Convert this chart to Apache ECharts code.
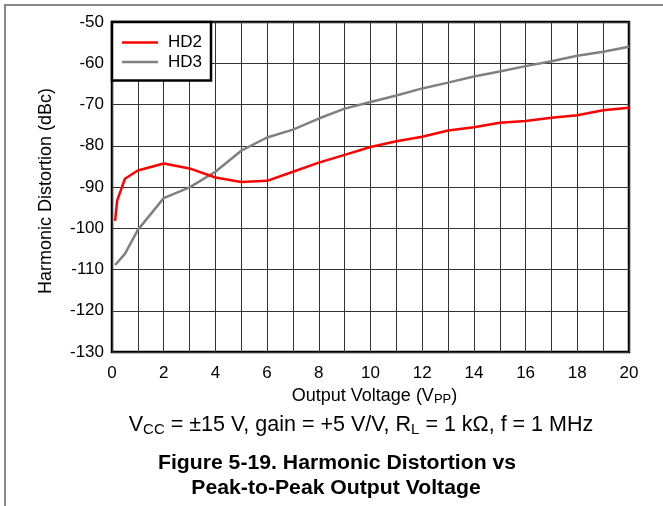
<!DOCTYPE html>
<html>
<head>
<meta charset="utf-8">
<script src="https://cdn.jsdelivr.net/npm/echarts@6/dist/echarts.min.js"></script>
<style>html,body{margin:0;padding:0;background:#fff}#c{width:663px;height:506px}</style>
</head>
<body>
<div id="c"></div>
<script>
var hd2X = [0.12, 0.2, 0.5, 1, 2, 3, 4, 5, 6, 7, 8, 9, 10, 11, 12, 13, 14, 15, 16, 17, 18, 19, 20];
var hd2Y = [-98.2, -93.3, -88, -86, -84.3, -85.5, -87.7, -88.8, -88.5, -86.3, -84.1, -82.2, -80.3, -78.9, -77.8, -76.3, -75.5, -74.4, -74.0, -73.2, -72.6, -71.4, -70.8];
var hd3X = [0.12, 0.5, 1, 2, 3, 4, 5, 6, 7, 8, 9, 10, 11, 12, 13, 14, 15, 16, 17, 18, 19, 20];
var hd3Y = [-108.9, -106.2, -100.4, -92.7, -90.1, -86.3, -81.2, -78.0, -76.1, -73.4, -71.0, -69.4, -67.8, -66.1, -64.7, -63.2, -62.0, -60.7, -59.5, -58.2, -57.2, -56.0];
var xTicks = [0, 2, 4, 6, 8, 10, 12, 14, 16, 18, 20];
var seriesNames = ['HD2', 'HD3'];

function pairs(xs, ys) { return xs.map(function (x, i) { return [x, ys[i]]; }); }

var FONT = '"Liberation Sans", Arial, sans-serif';
var chart = echarts.init(document.getElementById('c'), null, {renderer: 'canvas'});
chart.setOption({
  animation: false,
  backgroundColor: '#fff',
  textStyle: {fontFamily: FONT},
  grid: {left: 112, top: 22, right: 34, bottom: 154, show: true, borderColor: '#000', borderWidth: 2.5, containLabel: false},
  legend: {
    data: [{name: seriesNames[0], icon: 'rect'}, {name: seriesNames[1], icon: 'rect'}],
    orient: 'vertical', left: 112, top: 22,
    padding: [12, 9, 10, 10], itemGap: 2.4, itemWidth: 36, itemHeight: 2.5,
    backgroundColor: '#fff', borderColor: '#000', borderWidth: 2.5, borderRadius: 0,
    textStyle: {fontSize: 17, color: '#000', fontFamily: FONT, lineHeight: 17, padding: [0, 0, 0, 5]}
  },
  xAxis: {
    type: 'value', min: 0, max: 20, interval: 1,
    name: 'Output Voltage (V{sub|PP})', nameLocation: 'middle', nameGap: 22,
    nameTextStyle: {fontSize: 18, color: '#000', fontFamily: FONT, padding: [0, 0, 0, 8],
      rich: {sub: {fontSize: 13, color: '#000', fontFamily: FONT, padding: [8, 0, 0, 0]}}},
    axisLine: {show: false}, axisTick: {show: false},
    axisLabel: {fontSize: 17, color: '#000', margin: 13, fontFamily: FONT,
      formatter: function (v) { return xTicks.indexOf(v) >= 0 ? String(v) : ''; }},
    splitLine: {show: true, lineStyle: {color: '#333', width: 1}}
  },
  yAxis: {
    type: 'value', min: -130, max: -50, interval: 10,
    name: 'Harmonic Distortion (dBc)', nameLocation: 'middle', nameGap: 57,
    nameTextStyle: {fontSize: 18, color: '#000', fontFamily: FONT, padding: [0, 8, 0, 0]},
    axisLine: {show: false}, axisTick: {show: false},
    axisLabel: {fontSize: 17, color: '#000', margin: 8, fontFamily: FONT},
    splitLine: {show: true, lineStyle: {color: '#333', width: 1}}
  },
  series: [
    {name: seriesNames[0], type: 'line', data: pairs(hd2X, hd2Y), symbol: 'none', color: '#ff0000', lineStyle: {color: '#ff0000', width: 2.5}, z: 3},
    {name: seriesNames[1], type: 'line', data: pairs(hd3X, hd3Y), symbol: 'none', color: '#808080', lineStyle: {color: '#808080', width: 2.5}, z: 2}
  ],
  graphic: [
    {type: 'line', shape: {x1: 4, y1: 5, x2: 663, y2: 5}, style: {stroke: '#888', lineWidth: 2}},
    {type: 'line', shape: {x1: 5, y1: 4, x2: 5, y2: 506}, style: {stroke: '#888', lineWidth: 2}},
    {type: 'text', x: 361, y: 425, style: {
      text: 'V{sub|CC} = ±15 V, gain = +5 V/V, R{sub|L} = 1 kΩ, f = 1 MHz',
      font: '21.5px ' + FONT, fill: '#000', align: 'center', verticalAlign: 'middle',
      rich: {sub: {fontSize: 15, fontFamily: FONT, fill: '#000', padding: [10, 0, 0, 0]}}
    }},
    {type: 'text', x: 337, y: 463, scaleX: 1.06, style: {text: 'Figure 5-19. Harmonic Distortion vs', font: 'bold 20px ' + FONT, fill: '#000', align: 'center', verticalAlign: 'middle'}},
    {type: 'text', x: 336, y: 488, scaleX: 1.06, style: {text: 'Peak-to-Peak Output Voltage', font: 'bold 20px ' + FONT, fill: '#000', align: 'center', verticalAlign: 'middle'}}
  ]
});
</script>
</body>
</html>
